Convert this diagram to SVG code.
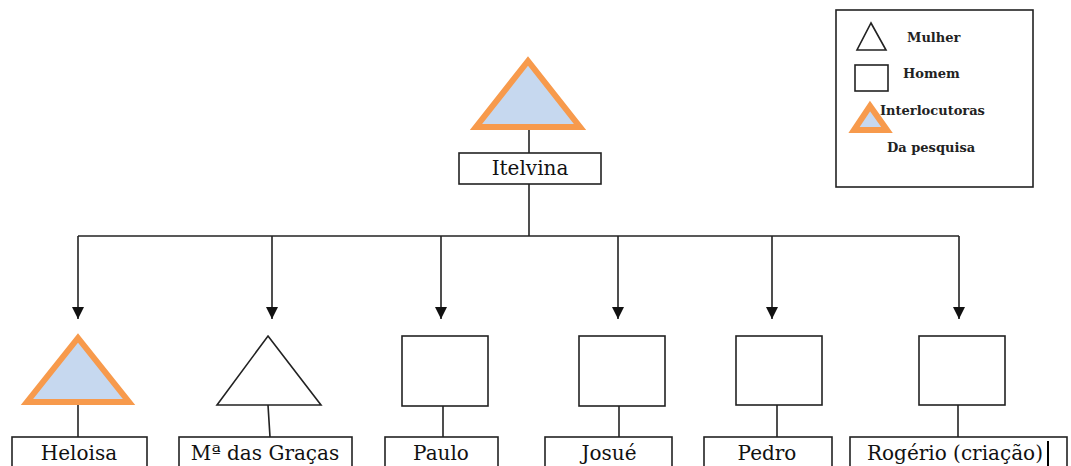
<svg xmlns="http://www.w3.org/2000/svg" width="1071" height="466" viewBox="0 0 1071 466">
  <defs>
    <marker id="arrow" viewBox="0 0 12 12" refX="12" refY="6" markerWidth="12" markerHeight="12" markerUnits="userSpaceOnUse" orient="auto">
      <path d="M0,0 L12,6 L0,12 Z" fill="#111"/>
    </marker>
    <filter id="soft" x="-10%" y="-50%" width="130%" height="200%">
      <feGaussianBlur stdDeviation="0.8"/>
    </filter>
  </defs>
  <style>
    .line { stroke: #222; stroke-width: 1.6; fill: none; }
    .box { fill: #fff; stroke: #222; stroke-width: 1.6; }
    .shape { fill: #fff; stroke: #222; stroke-width: 1.6; }
    .tri-hl { fill: #C6D8EF; stroke: #F79A4C; stroke-width: 6; stroke-linejoin: miter; }
    .shadow { fill: none; stroke: #8E8AA6; stroke-width: 6; opacity: 0.7; }
    .label { font-family: "DejaVu Serif", "Liberation Serif", "Times New Roman", serif; font-size: 20px; fill: #111; text-anchor: middle; }
    .legend { font-family: "DejaVu Serif", "Liberation Serif", "Times New Roman", serif; font-size: 13px; font-weight: bold; fill: #222; }
  </style>

  <rect width="1071" height="466" fill="#fff"/>

  <!-- connectors -->
  <g id="connectors">
    <line class="line" x1="529" y1="130" x2="529" y2="153"/>
    <line class="line" x1="529" y1="184" x2="529" y2="236"/>
    <line class="line" x1="78" y1="236" x2="959" y2="236"/>
    <line class="line" x1="78" y1="236" x2="78" y2="319" marker-end="url(#arrow)"/>
    <line class="line" x1="272" y1="236" x2="272" y2="319" marker-end="url(#arrow)"/>
    <line class="line" x1="441" y1="236" x2="441" y2="319" marker-end="url(#arrow)"/>
    <line class="line" x1="618" y1="236" x2="618" y2="319" marker-end="url(#arrow)"/>
    <line class="line" x1="772" y1="236" x2="772" y2="319" marker-end="url(#arrow)"/>
    <line class="line" x1="959" y1="236" x2="959" y2="319" marker-end="url(#arrow)"/>
    <!-- stems from symbols to name boxes -->
    <line class="line" x1="78" y1="405" x2="78" y2="437"/>
    <line class="line" x1="268" y1="405" x2="270" y2="437"/>
    <line class="line" x1="443" y1="406" x2="443" y2="437"/>
    <line class="line" x1="619" y1="406" x2="619" y2="437"/>
    <line class="line" x1="777" y1="405" x2="777" y2="437"/>
    <line class="line" x1="958" y1="405" x2="958" y2="437"/>
  </g>

  <!-- root -->
  <g id="node-itelvina">
    <path class="shadow" d="M477,131 L582,131" filter="url(#soft)"/>
    <path class="tri-hl" d="M528,61 L580,127 L476,127 Z"/>
    <rect class="box" x="459" y="153" width="142" height="31"/>
    <text class="label" x="530" y="175">Itelvina</text>
  </g>

  <!-- children -->
  <g id="node-heloisa">
    <path class="shadow" d="M27,407 L132,407" filter="url(#soft)"/>
    <path class="tri-hl" d="M78,338 L129,402 L27,402 Z"/>
    <rect class="box" x="12" y="437" width="135" height="33"/>
    <text class="label" x="79" y="460">Heloisa</text>
  </g>

  <g id="node-maria-das-gracas">
    <path class="shape" d="M268,336 L321,405 L217,405 Z"/>
    <rect class="box" x="179" y="437" width="173" height="33"/>
    <text class="label" x="265" y="460">Mª das Graças</text>
  </g>

  <g id="node-paulo">
    <rect class="shape" x="402" y="336" width="86" height="70"/>
    <rect class="box" x="385" y="437" width="113" height="33"/>
    <text class="label" x="441" y="460">Paulo</text>
  </g>

  <g id="node-josue">
    <rect class="shape" x="579" y="336" width="86" height="70"/>
    <rect class="box" x="545" y="437" width="127" height="33"/>
    <text class="label" x="609" y="460">Josué</text>
  </g>

  <g id="node-pedro">
    <rect class="shape" x="736" y="336" width="86" height="69"/>
    <rect class="box" x="704" y="437" width="128" height="33"/>
    <text class="label" x="767" y="460">Pedro</text>
  </g>

  <g id="node-rogerio">
    <rect class="shape" x="919" y="336" width="86" height="69"/>
    <rect class="box" x="850" y="437" width="217" height="33"/>
    <text class="label" x="955" y="460">Rogério (criação)</text>
    <line x1="1048" y1="441" x2="1048" y2="466" stroke="#000" stroke-width="2"/>
  </g>

  <!-- key -->
  <g id="legend">
    <rect class="box" x="836" y="10" width="197" height="177"/>
    <path class="shape" d="M871,23 L886,50 L857,50 Z"/>
    <text class="legend" x="907" y="42">Mulher</text>
    <rect class="shape" x="855" y="65" width="33" height="26"/>
    <text class="legend" x="903" y="78">Homem</text>
    <path class="shadow" d="M853,135 L890,135" stroke-width="4" filter="url(#soft)"/>
    <path class="tri-hl" d="M870,106 L887,130 L854,130 Z" stroke-width="5"/>
    <text class="legend" x="880" y="115">Interlocutoras</text>
    <text class="legend" x="887" y="152">Da pesquisa</text>
  </g>
</svg>
